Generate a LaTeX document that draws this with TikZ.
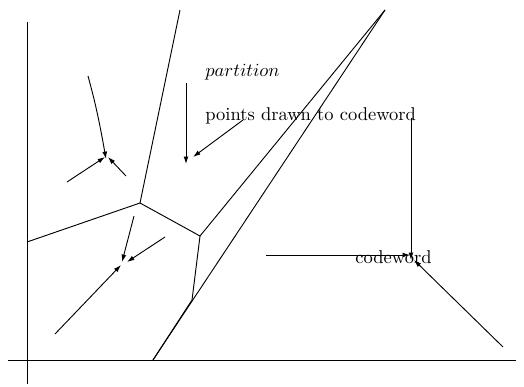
\documentclass[tikz,border=0pt]{standalone}
\usetikzlibrary{arrows.meta}
\begin{document}
\begin{tikzpicture}[x=0.54pt,y=-0.54pt,
  edge/.style={line width=0.5pt},
  arr/.style={line width=0.5pt,-{Latex[length=4pt,width=2.6pt]}},
  lbl/.style={inner sep=0pt,font=\fontsize{10}{12}\selectfont}]
\useasboundingbox (0,0) rectangle (524,386);
% axes
\coordinate (ya) at (27,22); \coordinate (yb) at (27,384);
\coordinate (xa) at (8,360); \coordinate (xb) at (516,360);
\draw[edge] (ya) -- (yb);
\draw[edge] (xa) -- (xb);
% partition lines
\coordinate (t1) at (180,10);
\coordinate (v1) at (140,203);
\coordinate (l1) at (27,242);
\coordinate (v2) at (200,236);
\coordinate (tr) at (385,10);
\coordinate (v3) at (192,300);
\coordinate (b1) at (153,360);
\draw[edge] (t1) -- (v1) -- (l1);
\draw[edge] (v1) -- (v2) -- (tr);
\draw[edge] (v2) -- (v3) -- (b1);
\draw[edge] (b1) -- (tr);
% top-left cluster
\coordinate (c1) at (106,159);
\coordinate (a1) at (88,76);
\coordinate (a2) at (67,182);
\coordinate (a3) at (126,176);
\draw[arr] (a1) .. controls (96,105) and (100,125) .. (c1);
\draw[arr] (a2) -- (105,157);
\draw[arr] (a3) -- (108,157);
% bottom-left cluster
\coordinate (c2) at (122,262);
\coordinate (b2) at (134,216);
\coordinate (b3) at (165,237);
\coordinate (b4) at (55,334);
\draw[arr] (b2) -- (c2);
\draw[arr] (b3) -- (127,262);
\draw[arr] (b4) -- (121,265);
% labels
\node[lbl,anchor=west] (part) at (205,72) {$partition$};
\node[lbl,anchor=west] (pts) at (205,116) {points drawn to codeword};
\coordinate (p1) at (186,83); \coordinate (p2) at (186,164);
\draw[arr] (p1) -- (p2);
\coordinate (q1) at (243,120); \coordinate (q2) at (193,157);
\draw[arr] (q1) -- (q2);
% codeword
\node[lbl,anchor=west] (cw) at (355,257) {codeword};
\coordinate (r1) at (411,118);
\coordinate (r2) at (266,255);
\coordinate (r3) at (503,347);
\draw[arr] (r1) -- (411,260);
\draw[arr] (r2) -- (410,255);
\draw[arr] (r3) -- (414,260);
\end{tikzpicture}
\end{document}
